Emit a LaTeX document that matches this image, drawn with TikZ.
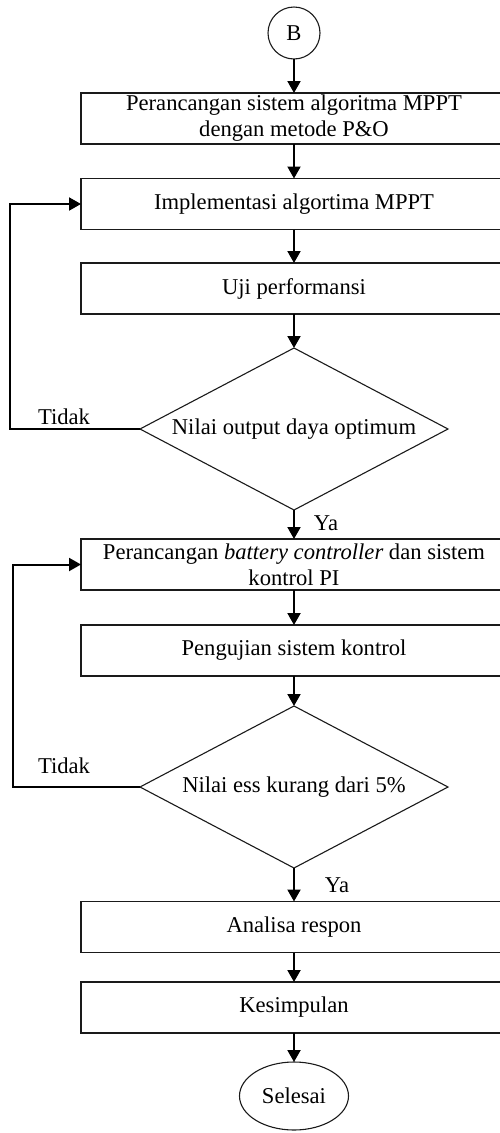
\documentclass[tikz,border=0pt]{standalone}
\usepackage{fontspec}
\setmainfont{Liberation Serif}
\usepackage{xcolor}
\usepackage{tikz}
\usetikzlibrary{positioning,shapes.geometric,arrows.meta,calc}
\definecolor{flowInk}{HTML}{000000}
\definecolor{flowLine}{HTML}{1A1A1A}
\tikzset{
  procbox/.style={
    draw=flowLine, line width=1.1pt, fill=white,
    minimum width=426pt, minimum height=51pt,
    align=center, font=\fontsize{22.6}{26}\selectfont, text=flowInk
  },
  decbox/.style ={diamond, aspect=1.9, draw=flowLine, line width=1.1pt,
                  minimum width=308pt, minimum height=162pt,
                  font=\fontsize{22.6}{26}\selectfont, text=flowInk},
  termnode/.style={ellipse, draw=flowLine, line width=1.1pt,
                   minimum width=109pt, minimum height=68pt,
                   font=\fontsize{22.6}{26}\selectfont},
  connnode/.style={circle, draw=flowLine, line width=1.1pt,
                   minimum size=52pt, font=\fontsize{22.6}{26}\selectfont},
  flowarrow/.style={draw=flowInk, line width=2pt,
                    -{Triangle[width=13pt,length=12pt]}},
  branchlabel/.style={font=\fontsize{22.6}{26}\selectfont, text=flowInk},
}

\begin{document}
\begin{tikzpicture}[
  x=1pt,y=-1pt,
  every node/.style={inner sep=0pt,outer sep=0pt},
]

% --- geometry ---------------------------------------------------------------
\def\xM{294}      % main column centre
\def\xLoopA{10}   % outer loop line, first decision
\def\xLoopB{13}   % outer loop line, second decision

\useasboundingbox (0,0) rectangle (500,1133);
\clip (0,0) rectangle (500,1133);

% --- MPPT part --------------------------------------------------------------
\node[connnode] (conB) at (\xM,33) {B};
\node[procbox] (rancangMppt) at (\xM,118.5)
  {Perancangan sistem algoritma MPPT\\dengan metode P\&O};
\node[procbox] (implement) at (\xM,204) {Implementasi algortima MPPT};
\node[procbox] (ujiPerf) at (\xM,288.5) {Uji performansi};
\node[decbox] (cekDaya) at (\xM,429) {Nilai output daya optimum};

% --- battery controller part ------------------------------------------------
\node[procbox] (rancangBat) at (\xM,564.5)
  {Perancangan \textit{battery controller} dan sistem\\kontrol PI};
\node[procbox] (ujiKontrol) at (\xM,650.5) {Pengujian sistem kontrol};
\node[decbox] (cekEss) at (\xM,787) {Nilai ess kurang dari 5\%};

% --- closing ----------------------------------------------------------------
\node[procbox] (analisa) at (\xM,927) {Analisa respon};
\node[procbox] (simpul) at (\xM,1007.5) {Kesimpulan};
\node[termnode] (selesai) at (\xM,1096) {Selesai};

% --- branch labels ----------------------------------------------------------
\node[branchlabel] (tidakA) at (64,417) {Tidak};
\node[branchlabel] (yaA)    at (326,523) {Ya};
\node[branchlabel] (tidakB) at (64,766) {Tidak};
\node[branchlabel] (yaB)    at (337,885) {Ya};

% --- connectors -------------------------------------------------------------
\draw[flowarrow] (conB) -- (rancangMppt);
\draw[flowarrow] (rancangMppt) -- (implement);
\draw[flowarrow] (implement) -- (ujiPerf);
\draw[flowarrow] (ujiPerf) -- (cekDaya);
\draw[flowarrow] (cekDaya) -- (rancangBat);
\draw[flowarrow] (rancangBat) -- (ujiKontrol);
\draw[flowarrow] (ujiKontrol) -- (cekEss);
\draw[flowarrow] (cekEss) -- (analisa);
\draw[flowarrow] (analisa) -- (simpul);
\draw[flowarrow] (simpul) -- (selesai);

% feedback loops back to the design / implementation steps
\draw[flowarrow] (cekDaya.west) -- (\xLoopA,429) |- (implement.west);
\draw[flowarrow] (cekEss.west) -- (\xLoopB,787) |- (rancangBat.west);

\end{tikzpicture}
\end{document}
